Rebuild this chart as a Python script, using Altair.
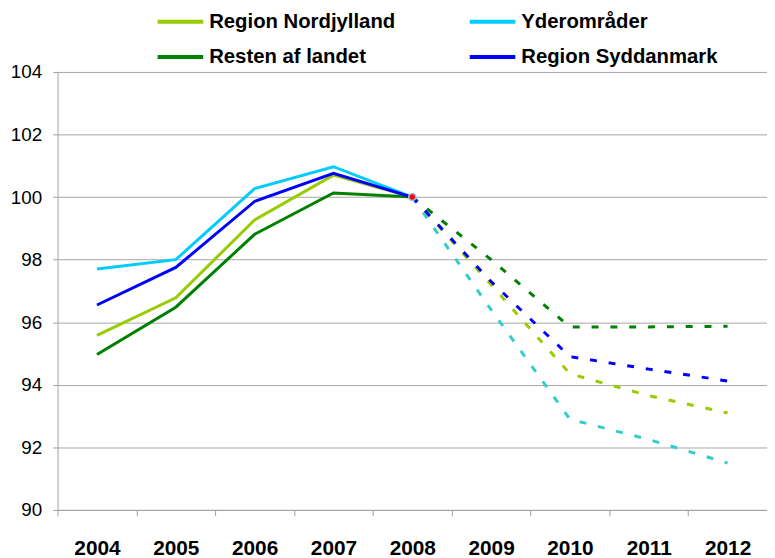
import altair as alt
import pandas as pd

years = ["2004", "2005", "2006", "2007", "2008", "2009", "2010", "2011", "2012"]
series = ["Region Nordjylland", "Yderområder", "Resten af landet", "Region Syddanmark"]

# actual 2004-2008
nord_actual = [95.58, 96.78, 99.27, 100.70, 100.0]
yder_actual = [97.70, 98.00, 100.27, 100.97, 100.0]
resten_actual = [94.97, 96.48, 98.81, 100.13, 100.0]
syd_actual = [96.55, 97.75, 99.86, 100.76, 100.0]

# forecast 2008-2012
nord_fc = [100.0, 97.2, 94.35, 93.65, 93.1]
yder_fc = [100.0, 96.4, 92.9, 92.25, 91.5]
resten_fc = [100.0, 98.0, 95.85, 95.85, 95.87]
syd_fc = [100.0, 97.3, 94.9, 94.5, 94.12]

solid_colors = ["#99CC00", "#00CCFF", "#008000", "#0000FF"]
dash_colors = ["#99CC00", "#33CCCC", "#008000", "#0000FF"]

actual = [nord_actual, yder_actual, resten_actual, syd_actual]
fc = [nord_fc, yder_fc, resten_fc, syd_fc]

rows_a, rows_f = [], []
for s, vals in zip(series, actual):
    for y, v in zip(years[:5], vals):
        rows_a.append({"year": y, "value": v, "series": s})
for s, c, vals in zip(series, dash_colors, fc):
    for y, v in zip(years[4:], vals):
        rows_f.append({"year": y, "value": v, "series": s, "dcolor": c})
df_a = pd.DataFrame(rows_a)
df_f = pd.DataFrame(rows_f)
df_dot = pd.DataFrame({"year": ["2008"], "value": [100.0]})

FONT = "Liberation Sans"

x = alt.X("year:O", sort=years,
          scale=alt.Scale(type="band", domain=years, paddingInner=0, paddingOuter=0),
          bandPosition=0.5,
          axis=alt.Axis(title=None, tickBand="extent", grid=False, labelAngle=0,
                        labelFont=FONT, labelFontSize=21, labelFontWeight="bold",
                        labelColor="#000000", labelPadding=22, tickSize=6,
                        tickColor="#A0A0A0", domainColor="#A0A0A0"))
y = alt.Y("value:Q",
          scale=alt.Scale(domain=[90, 104], nice=False, zero=False),
          axis=alt.Axis(title=None, values=[90, 92, 94, 96, 98, 100, 102, 104],
                        grid=True, gridColor="#A6A6A6", gridWidth=1,
                        labelFont=FONT, labelFontSize=19, labelColor="#000000",
                        labelPadding=11, tickSize=5, tickColor="#A0A0A0",
                        domainColor="#A0A0A0"))

solid = alt.Chart(df_a).mark_line(strokeWidth=3).encode(
    x=x, y=y,
    color=alt.Color("series:N", sort=series,
                    scale=alt.Scale(domain=series, range=solid_colors),
                    legend=alt.Legend(orient="none", legendX=99, legendY=-76,
                                      direction="horizontal",
                                      columns=2, title=None, symbolType="stroke",
                                      symbolSize=2116, symbolStrokeWidth=4,
                                      labelFont=FONT, labelFontSize=20.5, labelLimit=400,
                                      labelFontWeight="bold", labelColor="#000000",
                                      columnPadding=67, rowPadding=-9, labelOffset=4)),
)

dashed = alt.Chart(df_f).mark_line(strokeWidth=3, strokeDash=[7, 12]).encode(
    x=x, y=y,
    color=alt.Color("dcolor:N", scale=None),
    detail="series:N",
)

dot = alt.Chart(df_dot).mark_point(filled=True, size=50, color="#FF0000",
                                   stroke="#9DC3E6", strokeWidth=1.5, opacity=1).encode(x=x, y=y)

chart = alt.layer(solid, dashed, dot).properties(
    width=716, height=442,
    autosize=alt.AutoSizeParams(type="none"),
    padding={"left": 50, "top": 62, "right": 0, "bottom": 46},
).configure_view(stroke=None)

chart.save("out.html", embed_options={"renderer": "svg", "actions": False})
